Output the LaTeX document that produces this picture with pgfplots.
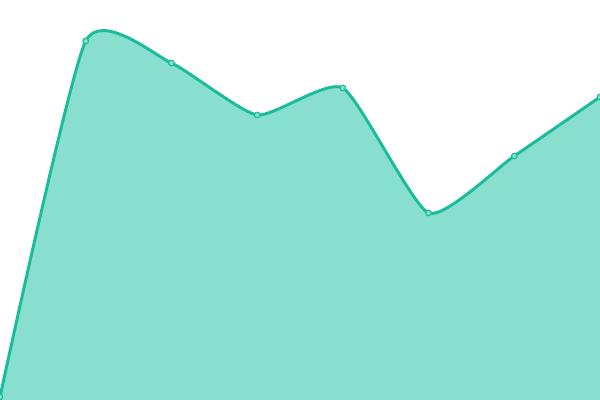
\documentclass[border=0pt]{standalone}
\usepackage{pgfplots}
\pgfplotsset{compat=1.18}
\definecolor{lineC}{HTML}{1ABC9C}
\definecolor{fillC}{HTML}{88DFCF}
\begin{document}
\begin{tikzpicture}
\begin{axis}[
  width=15cm, height=10cm, scale only axis,
  hide axis,
  xmin=0, xmax=7, ymin=0, ymax=400,
  clip=true,
]
\addplot[draw=none, fill=fillC, smooth, tension=0.33]
  coordinates {(0,3) (1,359) (2,337) (3,285) (4,312) (5,187) (6,244) (7,303)} \closedcycle;
\addplot[lineC, line width=2.1pt, smooth, tension=0.33,
  mark=*, mark size=2pt, mark options={fill=fillC, draw=lineC, line width=0.8pt}]
  coordinates {(0,3) (1,359) (2,337) (3,285) (4,312) (5,187) (6,244) (7,303)};
\end{axis}
\pgfresetboundingbox
\useasboundingbox (current axis.south west) rectangle (current axis.north east);
\end{tikzpicture}
\end{document}
